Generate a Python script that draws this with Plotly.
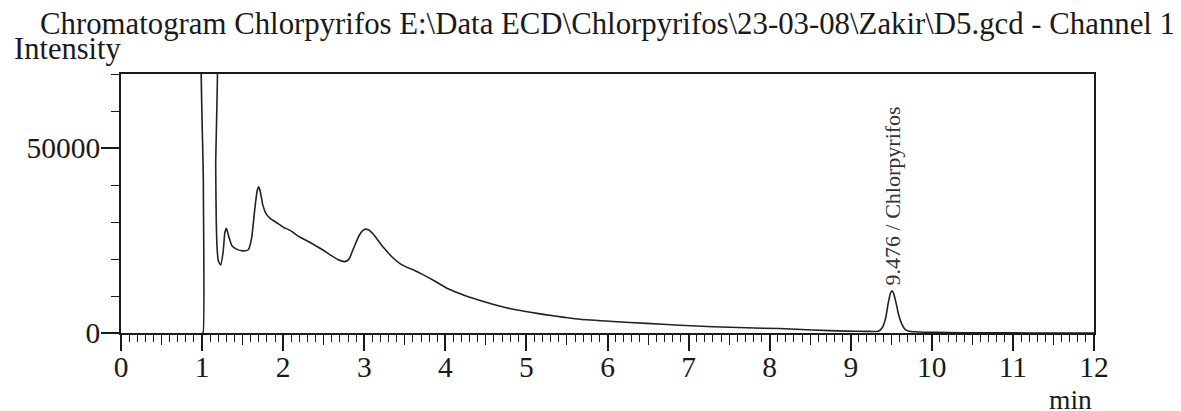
import plotly.graph_objects as go

# ---- data ----
time_min = [1.00, 1.012, 1.016, 1.02, 1.16, 1.168, 1.175, 1.185, 1.20, 1.23, 1.26, 1.28, 1.30,
            1.33, 1.37, 1.43, 1.50, 1.57, 1.61, 1.65, 1.68, 1.70, 1.72, 1.75, 1.79, 1.84,
            1.92, 2.00, 2.08, 2.20, 2.37, 2.50, 2.58, 2.68, 2.76, 2.81, 2.87, 2.94, 3.00,
            3.05, 3.12, 3.23, 3.36, 3.45, 3.52, 3.62, 3.73, 3.88, 4.02, 4.16, 4.30, 4.43,
            4.63, 4.84, 5.05, 5.25, 5.45, 5.66, 6.07, 6.48, 6.89, 7.30, 7.71, 8.12, 8.53,
            8.94, 9.20, 9.34, 9.39, 9.43, 9.46, 9.49, 9.51, 9.53, 9.56, 9.59, 9.63, 9.67,
            9.72, 9.80, 9.90, 10.2, 10.6, 11.2, 12.0]
intensity = [0, 0, 40000, 95000, 95000, 45000, 30000, 23000, 19500, 18400, 22000, 27000, 28300,
             26000, 23500, 22600, 22200, 22500, 25500, 33500, 38500, 39500, 38000, 34500, 32200, 31000,
             29800, 28600, 27800, 26000, 24000, 22300, 21100, 19800, 19300, 19900, 23000, 26500, 28000,
             27900, 26500, 23300, 20200, 18600, 17800, 16900, 15700, 13900, 12100, 10800, 9650, 8800,
             7500, 6400, 5600, 4900, 4300, 3700, 3100, 2600, 2100, 1700, 1400, 1200, 800,
             500, 450, 500, 1500, 4000, 7800, 10800, 11400, 10600, 8000, 5000, 2400, 1000,
             500, 320, 220, 120, 60, 20, 0]

peak_label = "9.476 / Chlorpyrifos"
title_text = "Chromatogram Chlorpyrifos E:\\Data ECD\\Chlorpyrifos\\23-03-08\\Zakir\\D5.gcd - Channel 1"
y_title = "Intensity"
x_title = "min"

x_range = [0, 12]
y_range = [0, 70000]
y_labelled_ticks = [0, 50000]
half_ticks = [i + 0.5 for i in range(12)]

# apex of the labelled peak, taken from the data
peak_idx = max((i for i, t in enumerate(time_min) if t > 9), key=lambda i: intensity[i])

FONT = "Liberation Serif"
INK = "#1a1a1a"
# the page body has an 8px default margin, so the figure is sized to fit the window
W, H = 1173, 403

fig = go.Figure()
fig.add_trace(go.Scatter(x=time_min, y=intensity, mode="lines",
                         line=dict(color="#222222", width=1.6, shape="spline", smoothing=0.5),
                         showlegend=False, hoverinfo="x+y"))
# invisible trace to attach the secondary (half-minute tick) axis
fig.add_trace(go.Scatter(x=[None], y=[None], xaxis="x2", showlegend=False, hoverinfo="skip"))

fig.update_layout(
    width=W, height=H,
    margin=dict(l=113, r=87, t=66, b=78),
    paper_bgcolor="white", plot_bgcolor="white",
    font=dict(family=FONT, size=28, color=INK),
    title=dict(text=title_text, x=32 / W, xanchor="left", xref="container",
               y=1 - 15 / H, yanchor="middle", yref="container",
               font=dict(family=FONT, size=30.8, color=INK)),
    xaxis=dict(range=x_range, showgrid=False, zeroline=False,
               showline=True, linecolor=INK, linewidth=1.6, mirror=True,
               ticks="outside", ticklen=16, tickwidth=1.6, tickcolor=INK, dtick=1, tick0=0,
               ticklabelstandoff=-9,
               minor=dict(dtick=0.1, tick0=0, ticks="outside", ticklen=7, tickwidth=1.3, tickcolor=INK),
               tickfont=dict(family=FONT, size=29.5, color=INK)),
    xaxis2=dict(range=x_range, overlaying="x", anchor="y", side="bottom",
                showgrid=False, zeroline=False, showline=False,
                tickmode="array", tickvals=half_ticks, showticklabels=False,
                ticks="outside", ticklen=11, tickwidth=1.4, tickcolor=INK),
    yaxis=dict(range=y_range, showgrid=False, zeroline=False,
               showline=True, linecolor=INK, linewidth=1.6, mirror=True,
               tickmode="array", tickvals=y_labelled_ticks, tickformat="d",
               ticks="outside", ticklen=18, tickwidth=1.6, tickcolor=INK,
               ticklabelstandoff=-5,
               minor=dict(dtick=10000, tick0=0, ticks="outside", ticklen=8, tickwidth=1.4, tickcolor=INK),
               tickfont=dict(family=FONT, size=29.5, color=INK)),
    annotations=[
        dict(text=y_title, xref="paper", yref="paper", x=-0.112, y=1.098,
             xanchor="left", yanchor="middle", showarrow=False,
             font=dict(family=FONT, size=30.5, color=INK)),
        dict(text=x_title, xref="paper", yref="paper", x=1.0, y=-0.258,
             xanchor="right", yanchor="middle", showarrow=False,
             font=dict(family=FONT, size=27.5, color=INK)),
        dict(text=peak_label, x=time_min[peak_idx], y=intensity[peak_idx],
             xref="x", yref="y", xanchor="center", yanchor="bottom", yshift=3,
             textangle=-90, showarrow=False,
             font=dict(family=FONT, size=22, color="#333333")),
    ],
)

fig.write_html("out.html")
